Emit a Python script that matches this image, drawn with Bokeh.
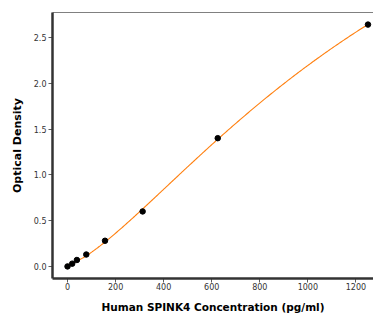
import numpy as np
from bokeh.plotting import figure
from bokeh.models import Range1d, LinearAxis, FixedTicker
from bokeh.embed import file_html
from bokeh.resources import INLINE

# data
conc = [0, 19.5, 39, 78, 156, 312.5, 625, 1250]
od = [0.0, 0.03, 0.07, 0.13, 0.28, 0.60, 1.40, 2.64]
x_ticks = [0, 200, 400, 600, 800, 1000, 1200]
y_ticks = [0.0, 0.5, 1.0, 1.5, 2.0, 2.5]
x_title = "Human SPINK4 Concentration (pg/ml)"
y_title = "Optical Density"

# four-parameter logistic fit of the standard curve (least squares)
xs = np.asarray(conc, float)
ys = np.asarray(od, float)


def fpl(prm, x):
    a, b, c, d = prm
    return d + (a - d) / (1.0 + (x / c) ** b)


def sse(prm):
    return float(np.sum((ys - fpl(prm, xs)) ** 2))


prm = np.array([0.0, 1.3, 900.0, 4.0])
lam = 1e-3
for _ in range(800):
    r = ys - fpl(prm, xs)
    J = np.empty((len(xs), 4))
    for k in range(4):
        h = 1e-6 * max(abs(prm[k]), 1.0)
        dpv = np.zeros(4)
        dpv[k] = h
        J[:, k] = (fpl(prm + dpv, xs) - fpl(prm, xs)) / h
    A = J.T @ J
    g = J.T @ r
    try:
        step = np.linalg.solve(A + lam * np.diag(np.diag(A) + 1e-12), g)
    except np.linalg.LinAlgError:
        lam *= 10
        continue
    cand = prm + step
    if cand[1] > 0 and cand[2] > 0 and np.isfinite(sse(cand)) and sse(cand) < sse(prm):
        prm = cand
        lam = max(lam / 3, 1e-9)
    else:
        lam *= 3
fit_x = np.linspace(min(conc), max(conc), 250)
fit_y = fpl(prm, fit_x)
if not np.all(np.isfinite(fit_y)):
    fit_y = np.polyval(np.polyfit(conc, od, 3), fit_x)

p = figure(width=373, height=315, output_backend="svg", toolbar_location=None,
           x_range=Range1d(-62.5, 1273), y_range=Range1d(-0.132, 2.772),
           min_border_left=52, min_border_right=0, min_border_top=12,
           min_border_bottom=37)
p.background_fill_color = "white"
p.border_fill_color = "white"
p.outline_line_color = None
p.xgrid.visible = False
p.ygrid.visible = False

p.line(fit_x, fit_y, line_color="#ff7f0e", line_width=1.1)
p.scatter(conc, od, size=5.5, fill_color="black", line_color="black")

for ax in (p.xaxis[0], p.yaxis[0]):
    ax.axis_line_color = "#333333"
    ax.axis_line_width = 2.5
    ax.major_tick_line_color = "#333333"
    ax.major_tick_line_width = 0.8
    ax.major_tick_out = 4
    ax.major_tick_in = 0
    ax.minor_tick_line_color = None
    ax.major_label_text_font = "DejaVu Sans"
    ax.major_label_text_font_size = "8px"
    ax.major_label_text_color = "#333333"
    ax.axis_label_text_font = "DejaVu Sans"
    ax.axis_label_text_font_style = "bold"
    ax.axis_label_text_color = "black"

p.xaxis[0].ticker = FixedTicker(ticks=x_ticks)
p.yaxis[0].ticker = FixedTicker(ticks=y_ticks)
p.yaxis[0].major_label_overrides = {t: f"{t:.1f}" for t in y_ticks}
p.xaxis[0].major_label_standoff = 0
p.yaxis[0].major_label_standoff = 2
p.xaxis[0].axis_label = x_title
p.yaxis[0].axis_label = y_title
p.xaxis[0].axis_label_text_font_size = "10.5px"
p.yaxis[0].axis_label_text_font_size = "11px"
p.xaxis[0].axis_label_standoff = 8
p.yaxis[0].axis_label_standoff = 7

top = LinearAxis(ticker=FixedTicker(ticks=[]), axis_line_color="#808080",
                 axis_line_width=1.2, major_tick_line_color=None,
                 minor_tick_line_color=None, major_label_text_color=None)
p.add_layout(top, "above")

open("out.html", "w").write(file_html(p, INLINE))
